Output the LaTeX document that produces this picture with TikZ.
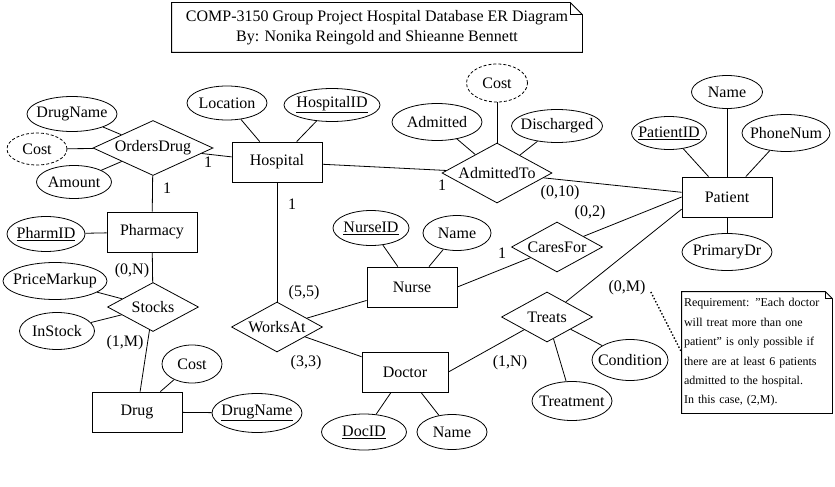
\documentclass[tikz,border=0pt]{standalone}
\usepackage{fontspec}
\setmainfont{Liberation Serif}
\usetikzlibrary{shapes.geometric}

\begin{document}
\begin{tikzpicture}[x=1pt, y=-1pt, line width=0.8pt,
  every node/.style = {font=\fontsize{16}{20}\selectfont},
  entity/.style = {draw, rectangle, minimum width=#1, minimum height=40pt},
  entity/.default = 90pt,
  attr/.style = {draw, ellipse, inner xsep=-30pt, inner ysep=-6pt,
    minimum width=#1, minimum height=35pt},
  attr/.default = 80pt,
  derived/.style = {attr=#1, dash pattern=on 3pt off 2pt},
  rel/.style = {draw, diamond, inner sep=-20pt,
    minimum width=#1, minimum height=50pt},
  rel/.default = 91pt,
  card/.style = {inner sep=1pt},
  notebox/.style = {inner sep=0pt, align=center}]
    \useasboundingbox (0,0) rectangle (835,487);

    \node[notebox, minimum width=410pt, minimum height=49pt] (title) at (377,27.5)
      {COMP-3150 Group Project Hospital Database ER Diagram\\By: Nonika Reingold and Shieanne Bennett};
    \draw (title.south west) -- (title.north west) -- ([xshift=-12pt]title.north east)
      -- ([yshift=-12pt]title.north east) -- (title.south east) -- cycle;
    \draw ([xshift=-12pt]title.north east) |- ([yshift=-12pt]title.north east);

    \node[entity] (hospital) at (277,162) {Hospital};
    \node[entity] (pharmacy) at (152,232) {Pharmacy};
    \node[entity] (drug) at (137,412) {Drug};
    \node[entity] (nurse) at (412,287) {Nurse};
    \node[entity=86pt] (doctor) at (405,372) {Doctor};
    \node[entity] (patient) at (727,197) {Patient};

    \node[rel=120pt, minimum height=55pt] (ordersdrug) at (153,148) {OrdersDrug};
    \node[rel, minimum height=49pt] (stocks) at (153,307) {Stocks};
    \node[rel=110pt, minimum height=60pt] (admittedto) at (497,173) {AdmittedTo};
    \node[rel] (caresfor) at (557,247) {CaresFor};
    \node[rel] (worksat) at (277,327) {WorksAt};
    \node[rel] (treats) at (547,317) {Treats};

    \node[attr=90pt] (ordDrugName) at (72,114) {DrugName};
    \node[derived=60pt, minimum height=32pt] (ordCost) at (37,149) {Cost};
    \node[attr=75pt, minimum height=33pt] (amount) at (74,182) {Amount};
    \node[attr=80pt, minimum height=34pt] (location) at (227,103) {Location};
    \node[attr=96pt, minimum height=33pt] (hospitalID) at (332,105) {\underline{HospitalID}};
    \node[attr=78pt] (pharmID) at (46,234) {\underline{PharmID}};
    \node[attr=104pt, minimum height=37pt] (priceMarkup) at (55,281) {PriceMarkup};
    \node[attr=75pt, minimum height=37pt] (inStock) at (57,331) {InStock};
    \node[attr=60pt, minimum height=38pt] (drugCost) at (192,364) {Cost};
    \node[attr=90pt, minimum height=39pt] (drugName) at (257,413) {\underline{DrugName}};
    \node[derived=61pt, minimum height=38pt] (admCost) at (497,83) {Cost};
    \node[attr=90pt, minimum height=37pt] (admitted) at (437,122) {Admitted};
    \node[attr=91pt, minimum height=33pt] (discharged) at (557,126) {Discharged};
    \node[attr=71pt, minimum height=33pt] (patName) at (727,92) {Name};
    \node[attr=75pt, minimum height=33pt] (patientID) at (669,133) {\underline{PatientID}};
    \node[attr=88pt, minimum height=37pt] (phoneNum) at (786,133) {PhoneNum};
    \node[attr=90pt, minimum height=37pt] (primaryDr) at (727,252) {PrimaryDr};
    \node[attr=76pt] (nurseID) at (371,228) {\underline{NurseID}};
    \node[attr=68pt] (nurseName) at (457,233) {Name};
    \node[attr=85pt, minimum height=36pt] (docID) at (364,432) {\underline{DocID}};
    \node[attr=70pt] (docName) at (452,432) {Name};
    \node[attr=80pt, minimum height=39pt] (treatment) at (572,401) {Treatment};
    \node[attr=76pt, minimum height=41pt] (condition) at (630,360) {Condition};

    \draw (ordDrugName) -- (ordersdrug);
    \draw (ordCost) -- (ordersdrug);
    \draw (amount) -- (ordersdrug);
    \draw (ordersdrug) -- (hospital);
    \draw (ordersdrug) -- (pharmacy);
    \draw (location) -- (hospital);
    \draw (hospitalID) -- (hospital);
    \draw (pharmID) -- (pharmacy);
    \draw (pharmacy) -- (stocks);
    \draw (priceMarkup) -- (stocks);
    \draw (inStock) -- (stocks);
    \draw (stocks) -- (drug);
    \draw (drug) -- (drugCost);
    \draw (drug) -- (drugName);
    \draw (hospital) -- (admittedto);
    \draw (admittedto) -- (patient);
    \draw (admCost) -- (admittedto);
    \draw (admitted) -- (admittedto);
    \draw (discharged) -- (admittedto);
    \draw (patName) -- (patient);
    \draw (patientID) -- (patient);
    \draw (phoneNum) -- (patient);
    \draw (primaryDr) -- (patient);
    \draw (hospital) -- (worksat);
    \draw (worksat) -- (nurse);
    \draw (worksat) -- (doctor);
    \draw (nurseID) -- (nurse);
    \draw (nurseName) -- (nurse);
    \draw (nurse.east) -- (caresfor);
    \draw (caresfor) -- (patient.west);
    \draw (patient.195) -- (treats);
    \draw (doctor.east) -- (treats);
    \draw (treats) -- (treatment);
    \draw (treats) -- (condition);
    \draw (doctor) -- (docID);
    \draw (doctor) -- (docName);

    \node[card] (cOrdHosp) at (208,162) {1};
    \node[card] (cOrdPharm) at (167,188) {1};
    \node[card] (cStocksPharm) at (132,271) {(0,N)};
    \node[card] (cStocksDrug) at (125,343) {(1,M)};
    \node[card] (cWorksHosp) at (292,204) {1};
    \node[card] (cWorksNurse) at (304,293) {(5,5)};
    \node[card] (cWorksDoc) at (306,363) {(3,3)};
    \node[card] (cAdmHosp) at (442,185) {1};
    \node[card] (cAdmPat) at (560,193) {(0,10)};
    \node[card] (cCarePat) at (590,213) {(0,2)};
    \node[card] (cCareNurse) at (502,253) {1};
    \node[card] (cTreatPat) at (627,288) {(0,M)};
    \node[card] (cTreatDoc) at (510,363) {(1,N)};

    \node[notebox, align=left, text width=146pt, minimum height=121pt, inner sep=2pt,
      font=\fontsize{12}{19.4}\selectfont] (note) at (757,352.5)
      {Requirement: \symbol{34}Each doctor\\will treat more than one\\patient\symbol{34} is only possible if\\there are at least 6 patients\\admitted to the hospital.\\In this case, (2,M).};
    \draw (note.south west) -- (note.north west) -- ([xshift=-7pt]note.north east)
      -- ([yshift=-7pt]note.north east) -- (note.south east) -- cycle;
    \draw ([xshift=-7pt]note.north east) |- ([yshift=-7pt]note.north east);
    \draw[dotted, line width=1.4pt] ([xshift=4pt, yshift=-4pt]cTreatPat.east) -- (note.west);
\end{tikzpicture}
\end{document}
